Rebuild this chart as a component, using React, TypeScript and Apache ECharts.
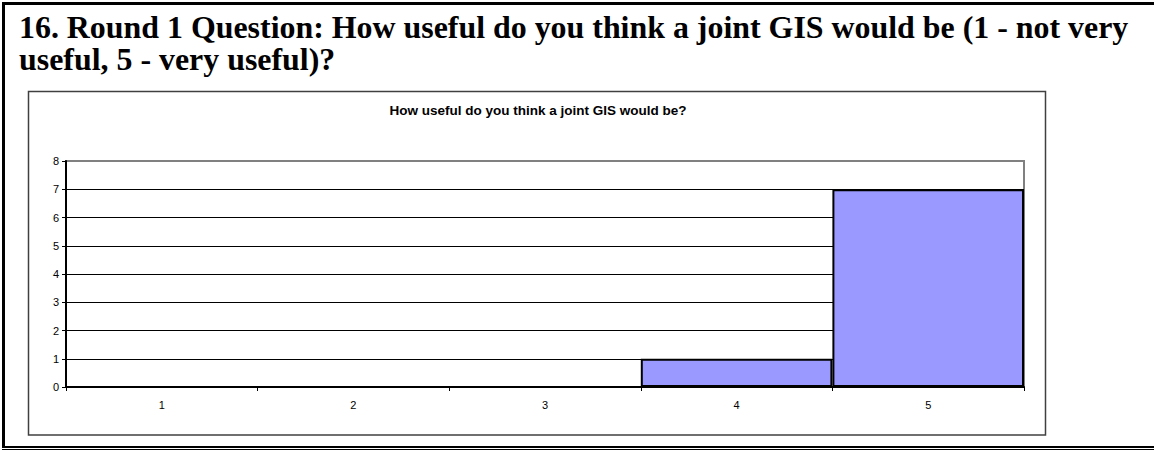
import React, { useEffect, useRef } from "react";
import * as echarts from "echarts";

const heading1 = "16. Round 1 Question: How useful do you think a joint GIS would be (1 - not very";
const heading2 = "useful, 5 - very useful)?";
const chartTitle = "How useful do you think a joint GIS would be?";
const categories = ["1", "2", "3", "4", "5"];
const counts = [0, 0, 0, 1, 7];
const yMin = 0;
const yMax = 8;
const yStep = 1;

export default function App() {
  const ref = useRef<HTMLDivElement>(null);
  useEffect(() => {
    document.body.style.margin = "0";
    const chart = echarts.init(ref.current!, null, { renderer: "svg" });
    const splitColors = [] as string[];
    for (let v = yMin; v <= yMax; v += yStep) splitColors.push(v === yMax ? "#808080" : "#000000");
    const serif = "'Liberation Serif', 'Times New Roman', serif";
    const sans = "'Liberation Sans', Arial, sans-serif";
    chart.setOption({
      animation: false,
      backgroundColor: "#ffffff",
      grid: {
        left: 66,
        top: 161,
        right: 130,
        bottom: 63,
        show: true,
        borderColor: "#808080",
        borderWidth: 2,
        backgroundColor: "#ffffff",
      },
      graphic: [
        { type: "rect", shape: { x: 2, y: 2, width: 1152, height: 3 }, style: { fill: "#000" }, silent: true },
        { type: "rect", shape: { x: 2, y: 2, width: 3, height: 446 }, style: { fill: "#000" }, silent: true },
        { type: "rect", shape: { x: 2, y: 446, width: 1152, height: 2 }, style: { fill: "#000" }, silent: true },
        { type: "rect", shape: { x: 2, y: 449, width: 1152, height: 1 }, style: { fill: "#000" }, silent: true },
        {
          type: "rect",
          z: -10,
          shape: { x: 28.5, y: 91.5, width: 1017, height: 343.5 },
          style: { fill: "#fff", stroke: "#404040", lineWidth: 1.5 },
          silent: true,
        },
        {
          type: "text",
          x: 19,
          y: 11,
          style: {
            text: heading1 + "\n" + heading2,
            font: "bold 31.9px " + serif,
            lineHeight: 32,
            fill: "#000",
            textVerticalAlign: "top",
          },
        },
        {
          type: "text",
          x: 538,
          y: 110,
          style: {
            text: chartTitle,
            font: "bold 13.5px " + sans,
            fill: "#000",
            textAlign: "center",
            textVerticalAlign: "middle",
          },
        },
      ],
      xAxis: {
        type: "category",
        data: categories,
        axisLine: { show: true, lineStyle: { color: "#000", width: 2 } },
        axisTick: { show: true, alignWithLabel: false, length: 4, lineStyle: { color: "#000", width: 1 } },
        axisLabel: { margin: 12, color: "#000", fontSize: 11, fontFamily: sans },
        splitLine: { show: false },
      },
      yAxis: {
        type: "value",
        min: yMin,
        max: yMax,
        interval: yStep,
        axisLine: { show: true, lineStyle: { color: "#000", width: 2 } },
        axisTick: { show: true, length: 4, lineStyle: { color: "#000", width: 1 } },
        axisLabel: { margin: 7, color: "#000", fontSize: 11, fontFamily: sans },
        splitLine: { show: true, lineStyle: { color: splitColors, width: 1 } },
      },
      series: [
        {
          type: "bar",
          data: counts,
          barWidth: "100%",
          barGap: "0%",
          itemStyle: { color: "#9999FF", borderColor: "#000", borderWidth: 2 },
        },
      ],
    });
    return () => chart.dispose();
  }, []);
  return <div ref={ref} style={{ width: 1154, height: 450 }} />;
}
